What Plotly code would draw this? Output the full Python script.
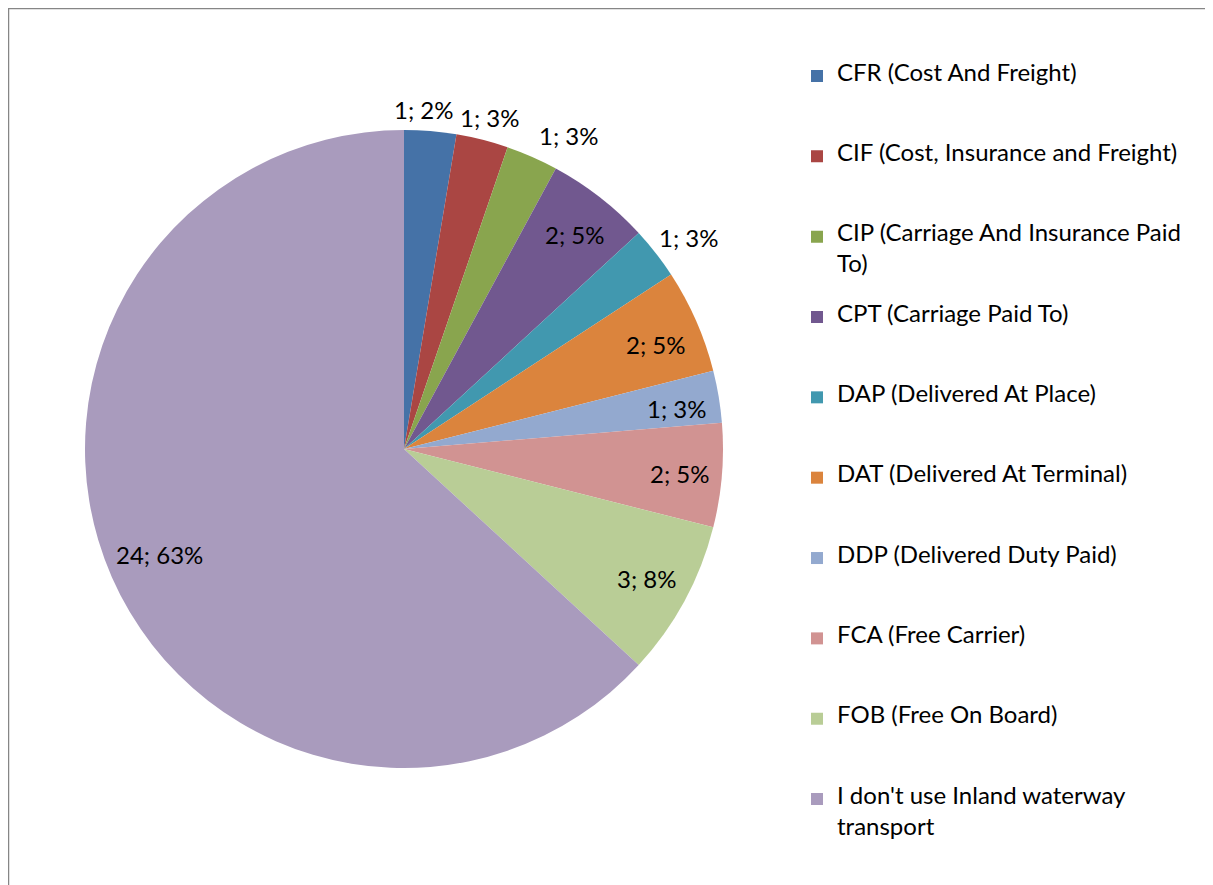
import math
import plotly.graph_objects as go

categories = [
    "CFR (Cost And Freight)",
    "CIF (Cost, Insurance and Freight)",
    "CIP (Carriage And Insurance Paid To)",
    "CPT (Carriage Paid To)",
    "DAP (Delivered At Place)",
    "DAT (Delivered At Terminal)",
    "DDP (Delivered Duty Paid)",
    "FCA (Free Carrier)",
    "FOB (Free On Board)",
    "I don't use Inland waterway transport",
]
counts = [1, 1, 1, 2, 1, 2, 1, 2, 3, 24]
pct_labels = ["2%", "3%", "3%", "5%", "3%", "5%", "3%", "5%", "8%", "63%"]

# styles
colors = ["#4572A7", "#AA4643", "#89A54E", "#71588F", "#4198AF",
          "#DB843D", "#93A9CF", "#D19392", "#B9CD96", "#A99BBD"]
# data-label placement: distance from the pie centre (fraction of radius)
# and a small angular nudge (degrees) off the slice's mid-angle
label_radius = [1.066, 1.075, 1.110, 0.860, 1.113, 0.857, 0.864, 0.870, 0.863, 0.833]
label_nudge = [-1.3, 0.3, 4.0, 0.7, 1.3, 1.1, 1.0, 0.3, -0.3, 0.4]

FONT = "Lato"
W, H = 1205, 877          # page adds an 8px body margin
cx, cy, r = 396, 441, 319  # pie centre / radius in figure pixels

# legend labels: wrap like the reference; pad to 5 lines so item spacing is uniform
wraps = {
    "CIP (Carriage And Insurance Paid To)": ["CIP (Carriage And Insurance Paid", "To)"],
    "I don't use Inland waterway transport": ["I don't use Inland waterway", "transport"],
}
span = "<span style='font-size:24px'>{}</span>"
nb = "\u00a0"
legend_labels = []
for c in categories:
    if c in wraps:
        a, b = wraps[c]
        legend_labels.append("<br>".join([span.format(a), nb, span.format(b), nb, nb]))
    else:
        legend_labels.append("<br>".join([span.format(c), nb, nb, nb, nb]))

fig = go.Figure(go.Pie(
    labels=legend_labels,
    values=counts,
    textinfo="none",
    sort=False,
    direction="clockwise",
    rotation=0,
    marker=dict(colors=colors, line=dict(width=0)),
    domain=dict(x=[(cx - r) / W, (cx + r) / W], y=[1 - (cy + r) / H, 1 - (cy - r) / H]),
    hoverinfo="none",
))

# data labels "count; percent", placed along each slice's mid-angle ray
total = sum(counts)
annotations = []
cum = 0
for i, v in enumerate(counts):
    mid = (cum + v / 2) / total * 2 * math.pi + math.radians(label_nudge[i])
    cum += v
    rho = label_radius[i] * r
    px = cx + rho * math.sin(mid)
    py = cy - rho * math.cos(mid)
    annotations.append(dict(
        x=px / W, y=1 - py / H, xref="paper", yref="paper",
        text=f"{counts[i]}; {pct_labels[i]}", showarrow=False,
        xanchor="center", yanchor="middle",
        font=dict(family=FONT, size=24, color="black"),
    ))

fig.update_layout(
    width=W, height=H,
    margin=dict(l=0, r=0, t=0, b=0),
    paper_bgcolor="white",
    font=dict(family=FONT, size=20, color="black"),
    annotations=annotations,
    legend=dict(
        x=789 / W, xanchor="left",
        y=1 - 53.7 / H, yanchor="top",
        valign="top",
        font=dict(size=11.9, family=FONT, color="black"),
        bgcolor="rgba(0,0,0,0)",
    ),
    shapes=[
        dict(type="line", xref="paper", yref="paper", x0=0, x1=1, y0=1, y1=1,
             line=dict(color="#868686", width=2.5)),
        dict(type="line", xref="paper", yref="paper", x0=0, x1=0, y0=0, y1=1,
             line=dict(color="#868686", width=2.5)),
    ],
)

fig.write_html("out.html")
